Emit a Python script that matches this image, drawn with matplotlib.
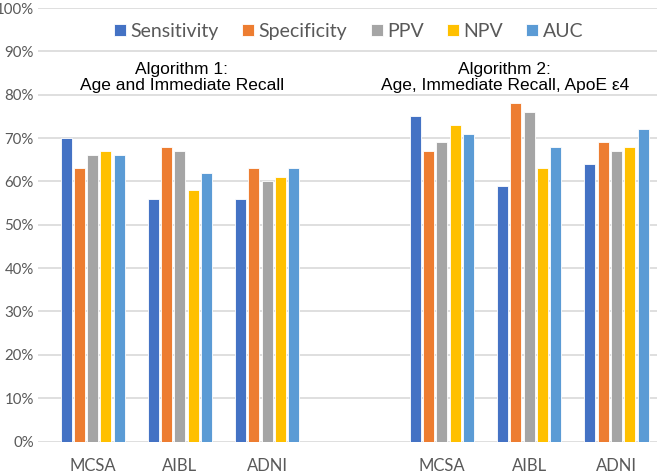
import matplotlib
matplotlib.use("Agg")
import matplotlib.pyplot as plt
import numpy as np
from matplotlib.ticker import PercentFormatter

categories = ["MCSA", "AIBL", "ADNI", "", "MCSA", "AIBL", "ADNI"]
series_names = ["Sensitivity", "Specificity", "PPV", "NPV", "AUC"]
sensitivity = [70, 56, 56, None, 75, 59, 64]
specificity = [63, 68, 63, None, 67, 78, 69]
ppv = [66, 67, 60, None, 69, 76, 67]
npv = [67, 58, 61, None, 73, 63, 68]
auc = [66, 62, 63, None, 71, 68, 72]
series = [sensitivity, specificity, ppv, npv, auc]
colors = ["#4472C4", "#ED7D31", "#A5A5A5", "#FFC000", "#5B9BD5"]

plt.rcParams['font.family'] = ['Lato', 'DejaVu Sans']

fig = plt.figure(figsize=(6.6, 4.76), dpi=100)
ax = fig.add_axes([38/660, 1-441.5/476, 619/660, 433.5/476])

x = np.arange(len(categories))
w = 0.126
step = 0.152
for i, (vals, c, name) in enumerate(zip(series, colors, series_names)):
    xs = [xi for xi, v in zip(x, vals) if v is not None]
    vs = [v for v in vals if v is not None]
    ax.bar(np.array(xs) + (i - 2) * step, vs, width=w, color=c, label=name,
           edgecolor="white", linewidth=0.6, zorder=3)

ax.set_xlim(-0.626, 6.464)
ax.set_ylim(0, 100)
ax.set_yticks(np.arange(0, 101, 10))
ax.yaxis.set_major_formatter(PercentFormatter(decimals=0))
ax.set_xticks(x)
ax.set_xticklabels(categories, fontsize=12, color="#595959")
ax.tick_params(axis='y', labelsize=10.8, colors="#595959", length=0, pad=3)
ax.tick_params(axis='x', length=0, pad=12)
ax.grid(axis='y', color="#D9D9D9", linewidth=1.2, zorder=0)
for s in ax.spines.values():
    s.set_visible(False)

ax.text(1.02, 84.0, "Algorithm 1:\nAge and Immediate Recall", ha="center", va="center",
        fontsize=12.5, linespacing=1.1, family=["Liberation Sans", "DejaVu Sans"])
ax.text(4.72, 84.0, "Algorithm 2:\nAge, Immediate Recall, ApoE \u03b54", ha="center", va="center",
        fontsize=12.5, linespacing=1.1, family=["Liberation Sans", "DejaVu Sans"])

leg = ax.legend(loc="center", bbox_to_anchor=(0.502, 0.946), ncol=5, frameon=False,
                fontsize=14, handlelength=0.62, handleheight=0.62, handletextpad=0.22,
                columnspacing=1.2)
for t in leg.get_texts():
    t.set_color("#595959")

fig.savefig("out.png", dpi=100)
